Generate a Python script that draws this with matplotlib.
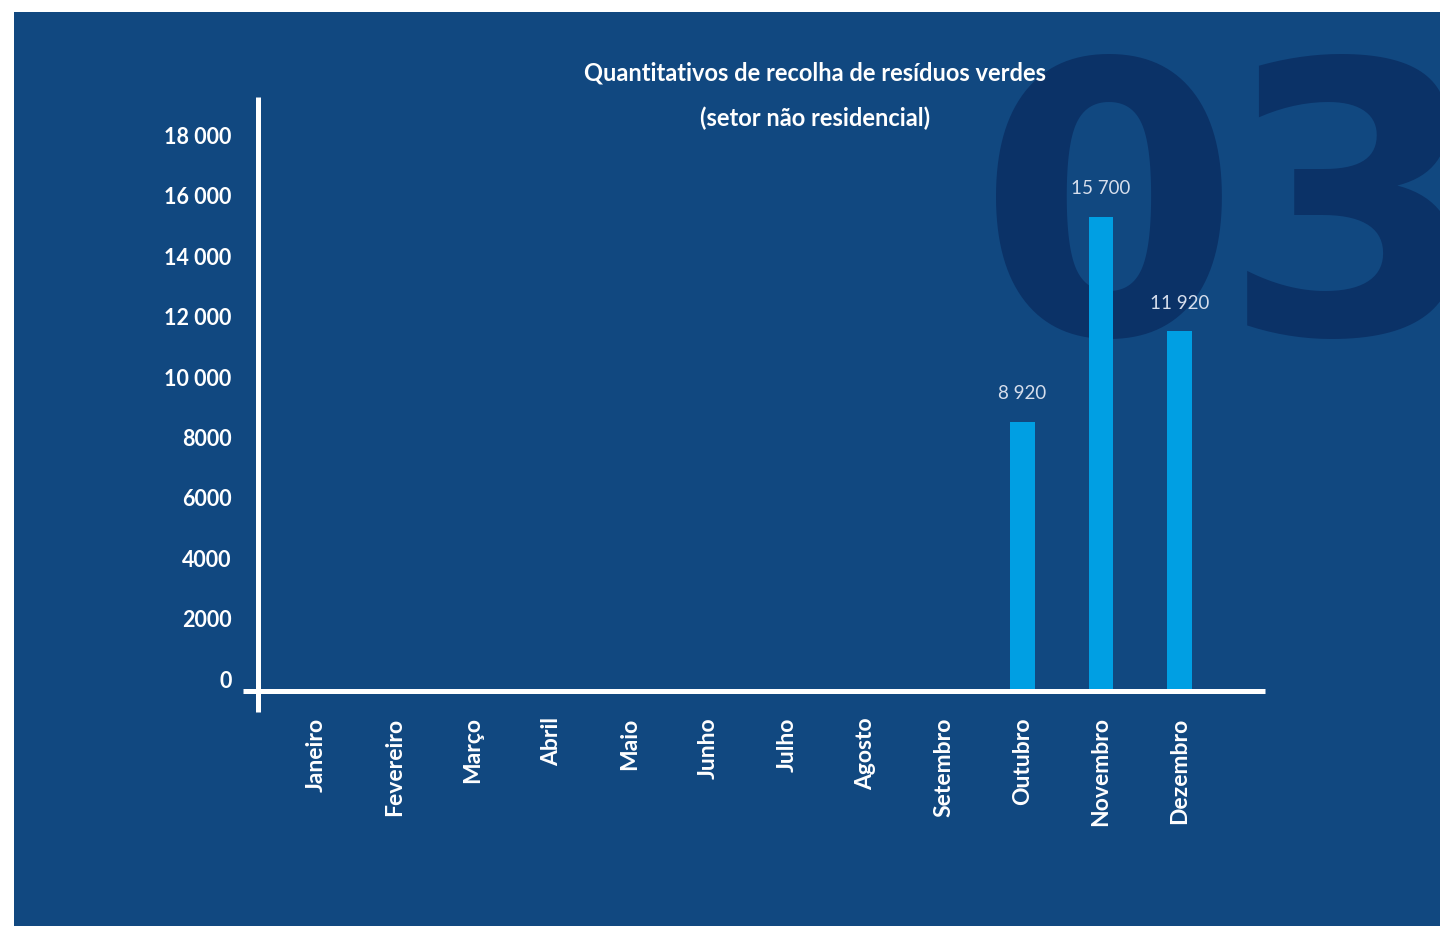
import matplotlib.pyplot as plt
import matplotlib.transforms as mtransforms
from matplotlib.patches import Rectangle

meses = ['Janeiro', 'Fevereiro', 'Março', 'Abril', 'Maio', 'Junho', 'Julho',
         'Agosto', 'Setembro', 'Outubro', 'Novembro', 'Dezembro']
valores = [0, 0, 0, 0, 0, 0, 0, 0, 0, 8920, 15700, 11920]
etiquetas = ['', '', '', '', '', '', '', '', '', '8 920', '15 700', '11 920']
yticks = [0, 2000, 4000, 6000, 8000, 10000, 12000, 14000, 16000, 18000]
ytick_labels = ['0', '2000', '4000', '6000', '8000', '10 000', '12 000',
                '14 000', '16 000', '18 000']

FUNDO = '#114880'
MARCA = '#0b3267'
BARRA = '#009fe3'

W, H = 1440, 926
fig = plt.figure(figsize=(W / 100, H / 100), dpi=100)
fig.patch.set_facecolor('white')
fig.patches.append(Rectangle((14 / W, 0), 1 - 14 / W, 1 - 12 / H,
                             transform=fig.transFigure, facecolor=FUNDO,
                             edgecolor='none', zorder=-3))

# numero da secção em fundo
fig.text(978 / W, 1 - 334 / H, '0', fontsize=271, fontweight='bold',
         family='DejaVu Sans', color=MARCA, ha='left', va='baseline', zorder=-2)
fig.text(1222 / W, 1 - 334 / H, '3', fontsize=271, fontweight='bold',
         family='DejaVu Sans', color=MARCA, ha='left', va='baseline', zorder=-2)

left, right, top, bottom = 258, 1265, 97, 691
ax = fig.add_axes([left / W, 1 - bottom / H, (right - left) / W, (bottom - top) / H])
ax.set_facecolor('none')

x = list(range(len(meses)))
ax.bar(x, valores, width=0.31, color=BARRA, zorder=2)
for xi, v, t in zip(x, valores, etiquetas):
    if t:
        ax.annotate(t, (xi, v), xytext=(0, 14), textcoords='offset points',
                    ha='center', va='bottom', fontsize=13.5, color='#d6deec',
                    family='Lato', fontweight='normal', zorder=4)

ax.set_xlim(-0.739, 12.09)
ax.set_ylim(0, 19670)
for s in ax.spines.values():
    s.set_visible(False)

# eixos em cruz
ax.plot([0, 0], [-0.035, 1], transform=ax.transAxes, color='white', lw=3.6,
        clip_on=False, solid_capstyle='butt', zorder=3)
ax.plot([-0.015, 1], [0, 0], transform=ax.transAxes, color='white', lw=3.6,
        clip_on=False, solid_capstyle='butt', zorder=3)

ax.set_xticks(x)
ax.set_xticklabels(meses, rotation=90, fontsize=16.5, fontweight='bold',
                   color='white', family='Lato', va='top', ha='center')
ax.set_yticks(yticks)
ax.set_yticklabels(ytick_labels, fontsize=15.5, fontweight='bold',
                   color='white', family='Lato')
ax.tick_params(axis='x', length=0, pad=19)
ax.tick_params(axis='y', length=0, pad=19)
desloc = mtransforms.ScaledTranslation(0, 12 / 100, fig.dpi_scale_trans)
for lab in ax.get_yticklabels():
    lab.set_transform(lab.get_transform() + desloc)

fig.text(815 / W, 1 - 73 / H, 'Quantitativos de recolha de resíduos verdes',
         ha='center', va='center', fontsize=17, fontweight='bold',
         color='white', family='Lato')
fig.text(815 / W, 1 - 118 / H, '(setor não residencial)',
         ha='center', va='center', fontsize=17, fontweight='bold',
         color='white', family='Lato')

fig.savefig('out.png', dpi=100, facecolor=fig.get_facecolor())
